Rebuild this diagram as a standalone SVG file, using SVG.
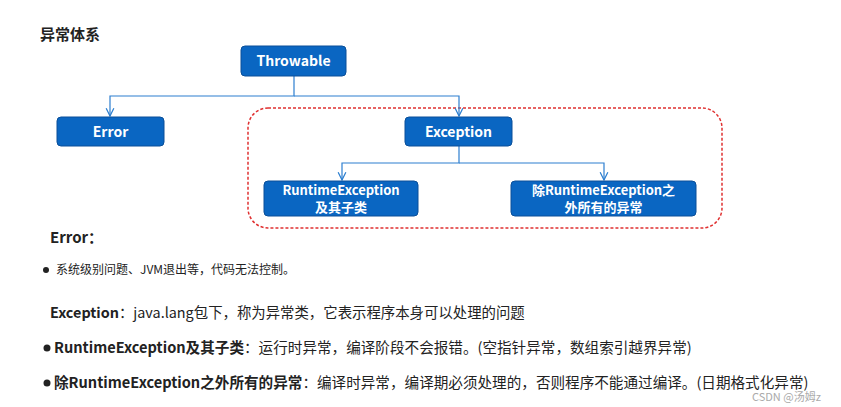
<svg xmlns="http://www.w3.org/2000/svg" width="841" height="407" viewBox="0 0 841 407">
<style>
text{font-family:"Noto Sans CJK SC","Noto Sans",sans-serif;fill:#222}
.box{fill:#0a66c2;stroke:#0a4f99;stroke-width:1}
.bt{fill:#fff;font-weight:bold;font-size:14px;text-anchor:middle}
.bt2{fill:#fff;font-weight:bold;font-size:13px;text-anchor:middle}
.c{fill:none;stroke:#2d7fd0;stroke-width:1.2}
.b{font-weight:bold}
</style>
<defs><marker id="a" viewBox="0 0 10 10" refX="9" refY="5" markerWidth="8" markerHeight="8" orient="auto"><path d="M1,1L9,5L1,9" fill="none" stroke="#2d7fd0" stroke-width="1.3"/></marker></defs>
<rect width="841" height="407" fill="#fff"/>
<text x="40" y="40" class="b" font-size="15">异常体系</text>
<rect x="248" y="108" width="474" height="120" rx="20" fill="none" stroke="#e03030" stroke-width="1.5" stroke-dasharray="3,2"/>
<g id="connectors">
<path class="c" d="M294,76V96H110V116" marker-end="url(#a)"/>
<path class="c" d="M294,96H459V116" marker-end="url(#a)"/>
<path class="c" d="M459,146V163H342V180" marker-end="url(#a)"/>
<path class="c" d="M459,163H604V180" marker-end="url(#a)"/>
</g>
<g id="throwable"><rect class="box" x="241" y="46" width="105" height="30" rx="4"/><text class="bt" x="293.500" y="66">Throwable</text></g>
<g id="error"><rect class="box" x="57" y="117" width="107" height="29" rx="4"/><text class="bt" x="110.500" y="137">Error</text></g>
<g id="exception"><rect class="box" x="405" y="117" width="107" height="29" rx="4"/><text class="bt" x="458.500" y="137">Exception</text></g>
<g id="runtime"><rect class="box" x="264" y="181" width="154" height="35" rx="4"/><text class="bt2" x="341" y="195">RuntimeException</text><text class="bt2" x="341" y="212">及其子类</text></g>
<g id="other"><rect class="box" x="511" y="181" width="185" height="35" rx="4"/><text class="bt2" x="603.500" y="195">除RuntimeException之</text><text class="bt2" x="603.500" y="212">外所有的异常</text></g>
<text x="50" y="243" class="b" font-size="15">Error：</text>
<circle cx="46" cy="270" r="3" fill="#222"/>
<text x="56" y="274" font-size="12">系统级别问题、JVM退出等，代码无法控制。</text>
<text x="50" y="318" font-size="14.4"><tspan class="b">Exception</tspan>：java.lang包下，称为异常类，它表示程序本身可以处理的问题</text>
<circle cx="47" cy="348" r="3.5" fill="#222"/>
<text x="54" y="353" font-size="14.6"><tspan class="b">RuntimeException及其子类</tspan>：运行时异常，编译阶段不会报错。(空指针异常，数组索引越界异常)</text>
<circle cx="47" cy="383" r="3.5" fill="#222"/>
<text x="54" y="388" font-size="14.6"><tspan class="b">除RuntimeException之外所有的异常</tspan>：编译时异常，编译期必须处理的，否则程序不能通过编译。(日期格式化异常)</text>
<text x="752" y="401" font-size="11" style="fill:#aaa">CSDN @汤姆z</text>
</svg>
